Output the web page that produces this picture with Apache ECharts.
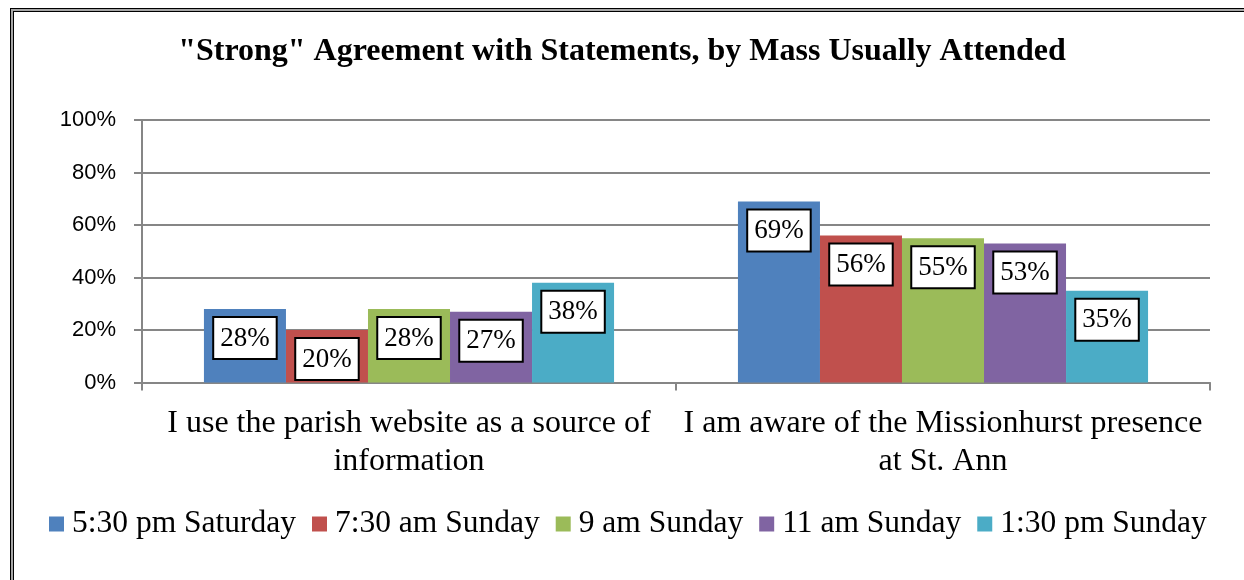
<!DOCTYPE html>
<html>
<head>
<meta charset="utf-8">
<script src="https://cdn.jsdelivr.net/npm/echarts@6/dist/echarts.min.js"></script>
<style>
  html, body { margin: 0; padding: 0; background: #fff; overflow: hidden; width: 1244px; height: 580px; }
  #wrap { position: relative; width: 1244px; height: 580px; overflow: hidden; }
  /* double frame line along the top and left edges */
  #frameOuter { position: absolute; left: 10px; top: 8px; width: 1400px; height: 700px;
    border-left: 1px solid #000; border-top: 1px solid #000; background: #a6a6a6; }
  #frameInner { position: absolute; left: 2px; top: 2px; right: 0; bottom: 0;
    border-left: 1px solid #000; border-top: 1px solid #000; background: #fff; }
  #chart { position: absolute; left: 0; top: 0; width: 1244px; height: 580px; }
</style>
</head>
<body>
<div id="wrap">
  <div id="frameOuter"><div id="frameInner"></div></div>
  <div id="chart"></div>
</div>
<script>
// Statements asked in the survey (line breaks as laid out under the axis)
const categories = [
  'I use the parish website as a source of\ninformation',
  'I am aware of the Missionhurst presence\nat St. Ann'
];

// Mass times, one series each
const massTimes = ['5:30 pm Saturday', '7:30 am Sunday', '9 am Sunday', '11 am Sunday', '1:30 pm Sunday'];

// Percent answering "strongly agree", per statement
const sat530 = [28, 69];
const sun730 = [20, 56];
const sun9 = [28, 55];
const sun11 = [27, 53];
const sun130 = [38, 35];

const seriesValues = [sat530, sun730, sun9, sun11, sun130];
const colors = ['#4F81BD', '#C0504D', '#9BBB59', '#8064A2', '#4BACC6'];

const serif = '"Liberation Serif", "Times New Roman", serif';
const sans = '"Liberation Sans", Arial, sans-serif';

const chart = echarts.init(document.getElementById('chart'), null, { renderer: 'canvas' });

chart.setOption({
  animation: false,
  backgroundColor: 'transparent',
  title: {
    text: '"Strong" Agreement with Statements, by Mass Usually Attended',
    left: 'center',
    top: 36,
    padding: 0,
    textStyle: { fontFamily: serif, fontWeight: 'bold', fontSize: 32, color: '#000' }
  },
  legend: {
    data: massTimes,
    left: 49,
    top: 506,
    padding: 0,
    itemWidth: 15,
    itemHeight: 15,
    itemGap: 16,
    icon: 'rect',
    textStyle: { fontFamily: serif, fontSize: 31.5, color: '#000', lineHeight: 36, padding: [0, 0, 0, 3] }
  },
  grid: { left: 142, right: 34, top: 120, bottom: 197.5, containLabel: false },
  xAxis: {
    type: 'category',
    data: categories,
    axisLine: { lineStyle: { color: '#868686', width: 2 } },
    axisTick: { show: true, length: 8, lineStyle: { color: '#868686', width: 2 } },
    axisLabel: { fontFamily: serif, fontSize: 32, color: '#000', lineHeight: 38, margin: 22, interval: 0 }
  },
  yAxis: {
    type: 'value',
    min: 0,
    max: 100,
    interval: 20,
    axisLine: { show: true, lineStyle: { color: '#868686', width: 2 } },
    axisTick: { show: true, length: 8, lineStyle: { color: '#868686', width: 2 } },
    splitLine: { lineStyle: { color: '#868686', width: 2 } },
    axisLabel: { fontFamily: sans, fontSize: 22, color: '#000', margin: 26, formatter: '{value}%' }
  },
  series: massTimes.map((name, i) => ({
    name: name,
    type: 'bar',
    data: seriesValues[i],
    barGap: '0%',
    barCategoryGap: '23.2%',
    itemStyle: { color: colors[i] },
    label: {
      show: true,
      position: 'insideTop',
      distance: 9,
      formatter: '{c}%',
      fontFamily: serif,
      fontSize: 27,
      lineHeight: 27,
      color: '#000',
      backgroundColor: '#fff',
      borderColor: '#000',
      borderWidth: 2,
      padding: [7, 6, 6, 6]
    }
  }))
});
</script>
</body>
</html>
